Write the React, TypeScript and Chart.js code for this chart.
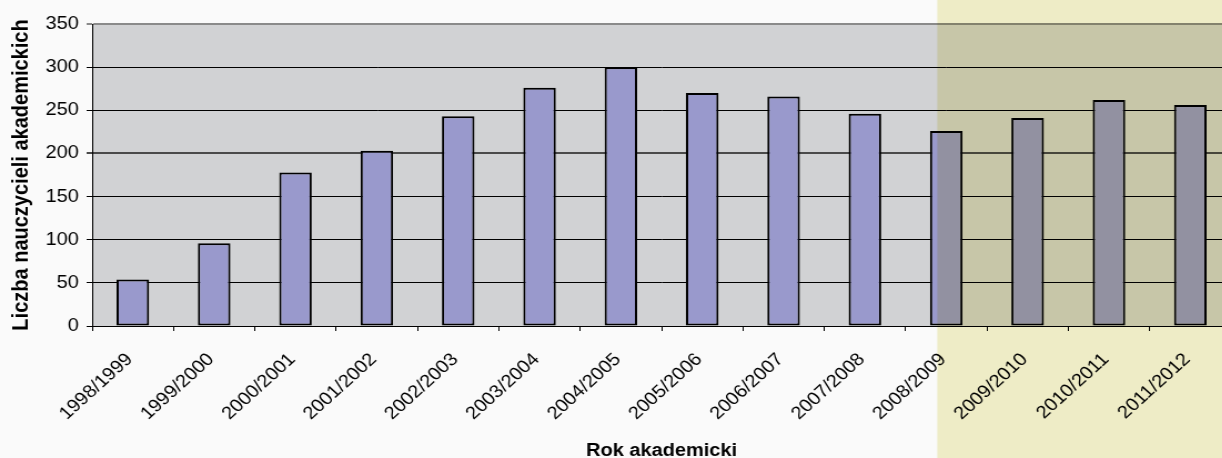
import React, { useEffect, useRef } from 'react';
import { Chart, registerables } from 'chart.js';

Chart.register(...registerables);

// ---- data ----
const categories = [
  '1998/1999', '1999/2000', '2000/2001', '2001/2002', '2002/2003', '2003/2004', '2004/2005',
  '2005/2006', '2006/2007', '2007/2008', '2008/2009', '2009/2010', '2010/2011', '2011/2012',
];
const teachers = [54, 96, 178, 203, 243, 276, 300, 270, 266, 246, 226, 241, 262, 256];
const yTickValues = [0, 50, 100, 150, 200, 250, 300, 350];
const highlightStart = 9.89; // category position where the highlighted (yellow) period begins
const xTitle = 'Rok akademicki';
const yTitle = 'Liczba nauczycieli akademickich';

// ---- presentation ----
const STRETCH = 1.11; // the reference is horizontally stretched
const INNER_W = 1117;
const INNER_H = 462;
const FONT = "'Liberation Sans', Arial, Helvetica, sans-serif";
const X_LABEL_SIZE = 18;

export default function App() {
  const ref = useRef<HTMLCanvasElement | null>(null);

  useEffect(() => {
    document.body.style.margin = '0';
    document.body.style.overflow = 'hidden';
    const canvas = ref.current;
    if (!canvas) return;

    const bgPlugin = {
      id: 'bgAndHighlight',
      beforeDraw(chart: any) {
        const { ctx, chartArea: a, width, height } = chart;
        ctx.save();
        ctx.fillStyle = '#fafafa';
        ctx.fillRect(0, 0, width, height);
        ctx.fillStyle = '#d1d2d4';
        ctx.fillRect(a.left, a.top, a.right - a.left, a.bottom - a.top);
        ctx.restore();
      },
      afterDraw(chart: any) {
        const { ctx, width, height } = chart;
        const xs = chart.scales.x;
        // rotated category labels
        ctx.save();
        ctx.fillStyle = '#000000';
        ctx.font = `${X_LABEL_SIZE}px ${FONT}`;
        ctx.textAlign = 'right';
        ctx.textBaseline = 'alphabetic';
        const labels: string[] = chart.data.labels;
        const anchorY = xs.top + 25;
        labels.forEach((lab, i) => {
          const cx = xs.getPixelForValue(i) - 8.5;
          ctx.save();
          ctx.translate(cx, anchorY);
          ctx.rotate(-Math.PI / 4);
          ctx.fillText(lab, 0, Math.round(X_LABEL_SIZE * 0.716));
          ctx.restore();
        });
        ctx.restore();
        // highlighted period
        const x0 = xs.getPixelForValue(highlightStart);
        ctx.save();
        ctx.globalCompositeOperation = 'multiply';
        ctx.fillStyle = '#f3f1ca';
        ctx.fillRect(x0, 0, width - x0, height);
        ctx.restore();
      },
    };

    const chart = new Chart(canvas, {
      type: 'bar',
      data: {
        labels: categories,
        datasets: [
          {
            data: teachers,
            backgroundColor: '#9999cc',
            borderColor: '#000000',
            borderWidth: 2,
            borderSkipped: false,
            categoryPercentage: 1,
            barPercentage: 0.4,
          },
        ],
      },
      options: {
        animation: false,
        responsive: true,
        maintainAspectRatio: false,
        layout: { padding: { top: 24, right: 8, left: 0, bottom: 0 } },
        plugins: { legend: { display: false }, tooltip: { enabled: false } },
        scales: {
          x: {
            grid: { display: true, drawOnChartArea: false, drawTicks: true, tickLength: 5, color: '#000000', offset: true },
            border: { display: true, color: '#000000', width: 1 },
            ticks: { display: false, autoSkip: false },
            title: {
              display: true, text: xTitle, color: '#000000',
              font: { family: FONT, size: 18, weight: 'bold' }, padding: { top: 0, bottom: 0 },
            },
            afterFit(scale: any) { scale.height = INNER_H - 326; },
          },
          y: {
            min: 0,
            max: 350,
            afterBuildTicks(scale: any) { scale.ticks = yTickValues.map((v) => ({ value: v })); },
            grid: {
              drawOnChartArea: true, drawTicks: true, tickLength: 5,
              color: (c: any) => c.tick && c.tick.value === 350 ? '#8a8a8a' : c.tick && c.tick.value === 200 ? '#4a4a4a' : '#000000',
              lineWidth: (c: any) => (c.tick && (c.tick.value === 350 || c.tick.value === 200) ? 2 : 1),
            },
            border: { display: true, color: '#000000', width: 1 },
            ticks: { padding: 7, color: '#000000', font: { family: FONT, size: 18 } },
            title: {
              display: true, text: yTitle, color: '#000000',
              font: { family: FONT, size: 20, weight: 'bold' }, padding: { top: 7, bottom: 0 },
            },
            afterFit(scale: any) { scale.width = 83; },
          },
        },
      },
      plugins: [bgPlugin],
    });

    return () => chart.destroy();
  }, []);

  return (
    <div style={{ position: 'fixed', left: 0, top: 0, width: 1222, height: 458, overflow: 'hidden', background: '#fafafa' }}>
      <div style={{ width: INNER_W, height: INNER_H, transform: `scaleX(${STRETCH})`, transformOrigin: '0 0' }}>
        <canvas ref={ref} />
      </div>
    </div>
  );
}
